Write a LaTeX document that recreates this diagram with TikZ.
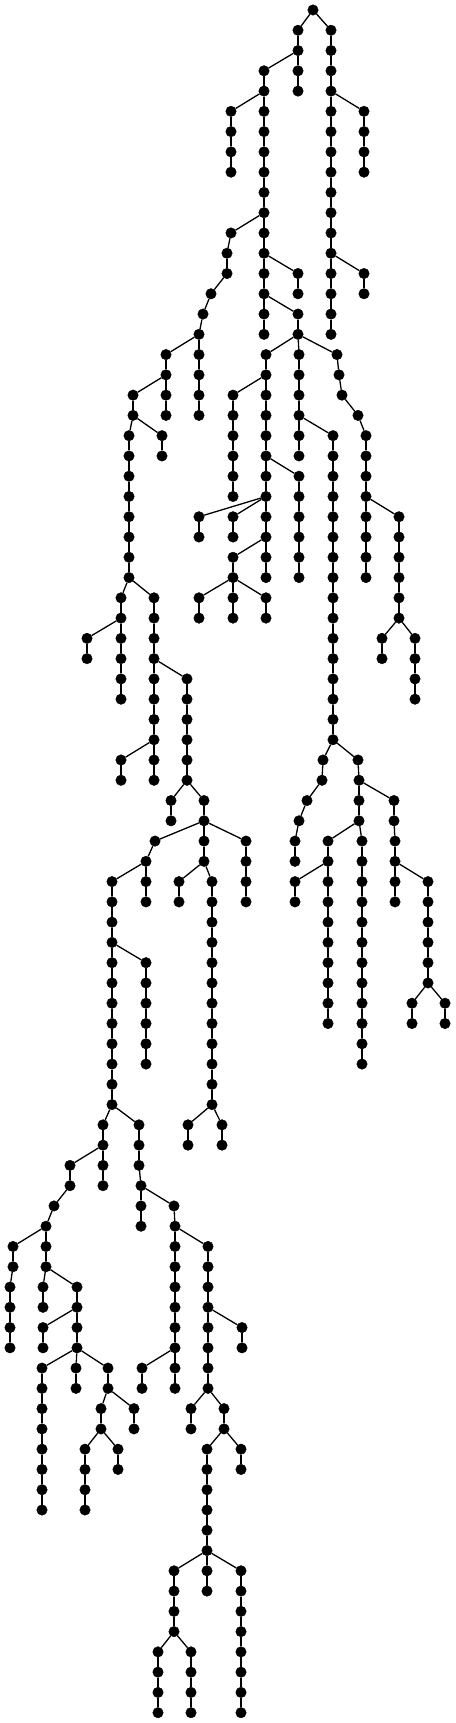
\documentclass[tikz,border=0pt]{standalone}
\usepackage{tikz}
\tikzset{
	node_dot/.style = {
		circle,
		draw=black,
		fill=black,
		inner sep=0pt,
		minimum size=10.5pt
	},
	edge_plain/.style = {
		draw=black,
		line width=1.3pt
	},
}
% #1 parent, #2 x, #3 first row, #4 last row
\newcommand{\addbranch}[4]{%
	\foreach \r in {#3,...,#4}{%
		\node [node_dot] (n\r-#2) at (#2,{-10-20.27*\r}) {};%
		\pgfmathtruncatemacro{\prevrow}{\r-1}%
		\ifnum\r=#3\relax
			\draw [edge_plain] (#1) -- (n\r-#2);%
		\else
			\draw [edge_plain] (n\prevrow-#2) -- (n\r-#2);%
		\fi
	}%
}

\begin{document}
\begin{tikzpicture}[x=1pt,y=1pt]
\useasboundingbox (0,0) rectangle (455,-1723);
\node [node_dot] (n0-313) at (313,-10) {};
\addbranch{n0-313}{298}{1}{4}
\addbranch{n0-313}{331}{1}{16}
\addbranch{n4-331}{364}{5}{8}
\addbranch{n12-331}{364}{13}{14}
\addbranch{n2-298}{264}{3}{16}
\addbranch{n4-264}{231}{5}{8}
\addbranch{n10-264}{231}{11}{11}
\addbranch{n11-231}{227}{12}{13}
\addbranch{n13-227}{211}{14}{14}
\addbranch{n14-211}{203}{15}{15}
\addbranch{n15-203}{199}{16}{20}
\addbranch{n16-199}{166}{17}{20}
\addbranch{n18-166}{133}{19}{20}
\addbranch{n20-133}{129}{21}{28}
\addbranch{n20-133}{162}{21}{22}
\addbranch{n28-129}{121}{29}{34}
\addbranch{n30-121}{87}{31}{32}
\addbranch{n28-129}{154}{29}{38}
\addbranch{n32-154}{187}{33}{38}
\addbranch{n36-154}{121}{37}{38}
\addbranch{n38-187}{171}{39}{40}
\addbranch{n38-187}{204}{39}{42}
\addbranch{n40-204}{246}{41}{44}
\addbranch{n40-204}{155}{41}{41}
\addbranch{n41-155}{146}{42}{44}
\addbranch{n42-146}{112}{43}{54}
\addbranch{n46-112}{146}{47}{52}
\addbranch{n54-112}{103}{55}{58}
\addbranch{n56-103}{70}{57}{58}
\addbranch{n58-70}{54}{59}{59}
\addbranch{n59-54}{46}{60}{62}
\addbranch{n60-46}{13}{61}{62}
\addbranch{n62-13}{10}{63}{66}
\addbranch{n62-46}{43}{63}{64}
\addbranch{n62-46}{77}{63}{66}
\addbranch{n64-77}{43}{65}{66}
\addbranch{n66-77}{42}{67}{74}
\addbranch{n66-77}{76}{67}{68}
\addbranch{n66-77}{108}{67}{68}
\addbranch{n68-108}{101}{69}{70}
\addbranch{n68-108}{134}{69}{70}
\addbranch{n70-101}{85}{71}{74}
\addbranch{n70-101}{118}{71}{72}
\addbranch{n54-112}{139}{55}{57}
\addbranch{n57-139}{141}{58}{60}
\addbranch{n58-141}{174}{59}{59}
\addbranch{n59-174}{175}{60}{68}
\addbranch{n60-175}{208}{61}{68}
\addbranch{n66-175}{142}{67}{68}
\addbranch{n64-208}{242}{65}{66}
\addbranch{n68-208}{191}{69}{70}
\addbranch{n68-208}{224}{69}{70}
\addbranch{n70-224}{207}{71}{78}
\addbranch{n70-224}{241}{71}{72}
\addbranch{n76-207}{174}{77}{80}
\addbranch{n76-207}{241}{77}{84}
\addbranch{n80-174}{158}{81}{84}
\addbranch{n80-174}{191}{81}{84}
\addbranch{n42-204}{179}{43}{44}
\addbranch{n42-204}{212}{43}{54}
\addbranch{n54-212}{188}{55}{56}
\addbranch{n54-212}{222}{55}{56}
\addbranch{n12-264}{298}{13}{14}
\addbranch{n14-264}{298}{15}{16}
\addbranch{n16-298}{266}{17}{28}
\addbranch{n18-266}{233}{19}{24}
\addbranch{n24-266}{199}{25}{26}
\addbranch{n24-266}{233}{25}{26}
\addbranch{n26-266}{233}{27}{30}
\addbranch{n28-233}{199}{29}{30}
\addbranch{n28-233}{266}{29}{30}
\addbranch{n22-266}{299}{23}{28}
\addbranch{n16-298}{299}{17}{22}
\addbranch{n20-299}{333}{21}{36}
\addbranch{n36-333}{323}{37}{37}
\addbranch{n37-323}{322}{38}{38}
\addbranch{n38-322}{307}{39}{39}
\addbranch{n39-307}{299}{40}{40}
\addbranch{n40-299}{295}{41}{42}
\addbranch{n36-333}{358}{37}{37}
\addbranch{n37-358}{359}{38}{40}
\addbranch{n40-359}{328}{41}{50}
\addbranch{n42-328}{295}{43}{44}
\addbranch{n40-359}{362}{41}{52}
\addbranch{n38-359}{394}{39}{40}
\addbranch{n40-394}{395}{41}{44}
\addbranch{n42-395}{428}{43}{48}
\addbranch{n48-428}{412}{49}{50}
\addbranch{n48-428}{445}{49}{50}
\addbranch{n16-298}{337}{17}{17}
\addbranch{n17-337}{339}{18}{18}
\addbranch{n18-339}{342}{19}{19}
\addbranch{n19-342}{358}{20}{20}
\addbranch{n20-358}{366}{21}{28}
\addbranch{n24-366}{399}{25}{30}
\addbranch{n30-399}{382}{31}{32}
\addbranch{n30-399}{415}{31}{34}
\end{tikzpicture}
\end{document}
